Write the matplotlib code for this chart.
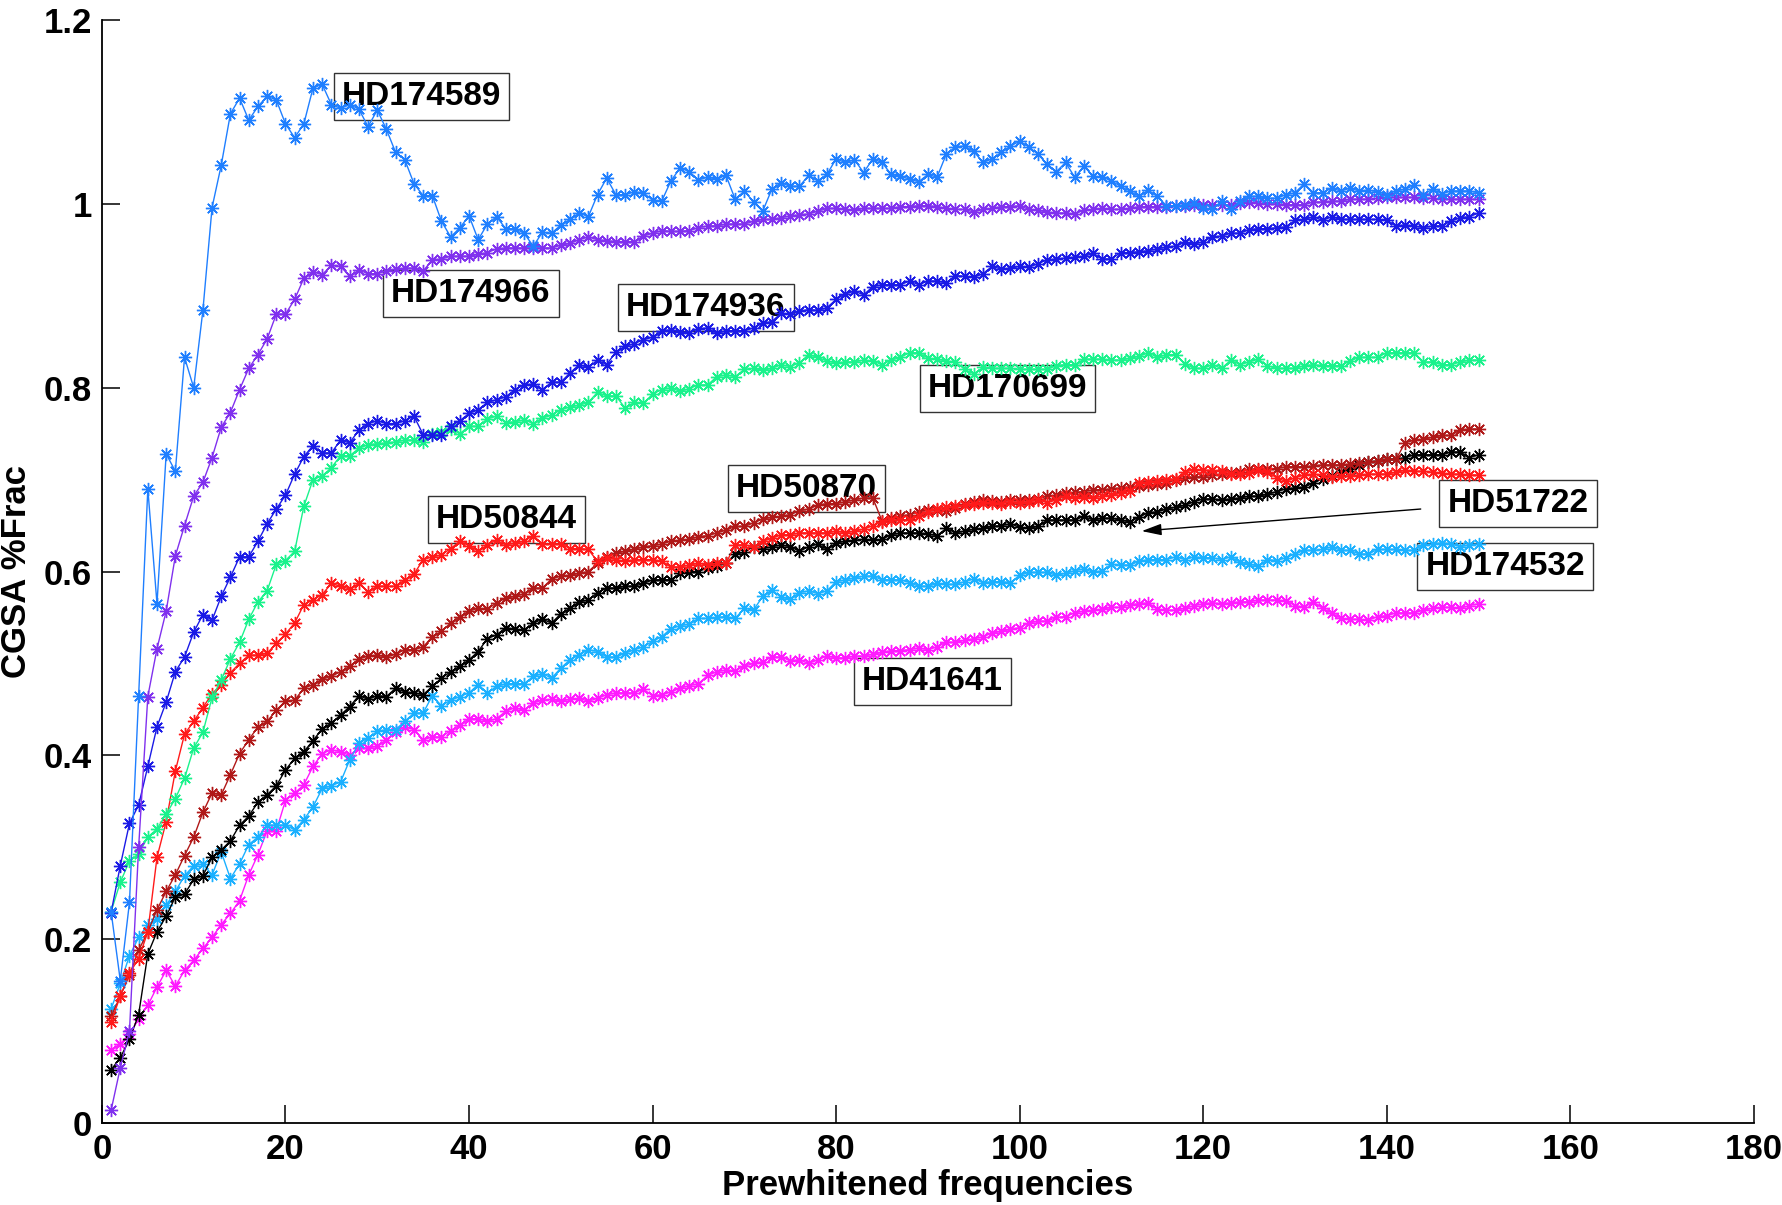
import matplotlib
matplotlib.use("Agg")
import matplotlib.pyplot as plt
import numpy as np

freqs = np.arange(1, 151)

hd174589 = [
    0.23, 0.155, 0.24, 0.465, 0.69, 0.565, 0.728, 0.709, 0.833, 0.80,
    0.884, 0.996, 1.042, 1.098, 1.115, 1.091, 1.106, 1.117, 1.113, 1.087,
    1.072, 1.087, 1.126, 1.13, 1.108, 1.104, 1.108, 1.103, 1.084, 1.102,
    1.081, 1.056, 1.048, 1.022, 1.009, 1.009, 0.981, 0.964, 0.974, 0.987,
    0.961, 0.978, 0.986, 0.973, 0.973, 0.968, 0.954, 0.969, 0.968, 0.977,
    0.983, 0.99, 0.986, 1.01, 1.028, 1.01, 1.01, 1.013, 1.012, 1.004,
    1.003, 1.025, 1.039, 1.035, 1.026, 1.029, 1.027, 1.031, 1.005, 1.014,
    1.002, 0.992, 1.016, 1.023, 1.019, 1.019, 1.031, 1.025, 1.032, 1.049,
    1.045, 1.048, 1.034, 1.049, 1.045, 1.032, 1.030, 1.027, 1.024, 1.032,
    1.029, 1.054, 1.062, 1.063, 1.057, 1.045, 1.049, 1.056, 1.063, 1.068,
    1.062, 1.054, 1.043, 1.035, 1.045, 1.029, 1.041, 1.030, 1.029, 1.025,
    1.019, 1.014, 1.008, 1.015, 1.008, 0.998, 0.998, 0.999, 1.001, 0.995,
    0.994, 1.003, 0.994, 1.003, 1.008, 1.008, 1.006, 1.006, 1.010, 1.012,
    1.022, 1.012, 1.012, 1.017, 1.014, 1.017, 1.014, 1.015, 1.013, 1.010,
    1.014, 1.016, 1.020, 1.010, 1.016, 1.011, 1.014, 1.014, 1.014, 1.012,
]

hd174966 = [
    0.014, 0.06, 0.10, 0.30, 0.464, 0.516, 0.557, 0.617, 0.65, 0.682,
    0.697, 0.724, 0.757, 0.773, 0.798, 0.821, 0.836, 0.853, 0.880, 0.880,
    0.896, 0.919, 0.926, 0.923, 0.933, 0.932, 0.921, 0.928, 0.924, 0.924,
    0.927, 0.929, 0.930, 0.930, 0.927, 0.939, 0.940, 0.943, 0.943, 0.943,
    0.945, 0.947, 0.951, 0.952, 0.952, 0.952, 0.952, 0.952, 0.952, 0.955,
    0.957, 0.961, 0.964, 0.961, 0.960, 0.959, 0.959, 0.959, 0.965, 0.968,
    0.971, 0.970, 0.970, 0.971, 0.974, 0.976, 0.976, 0.978, 0.978, 0.978,
    0.981, 0.983, 0.983, 0.985, 0.987, 0.988, 0.989, 0.992, 0.995, 0.995,
    0.994, 0.993, 0.995, 0.995, 0.995, 0.995, 0.997, 0.997, 0.998, 0.998,
    0.997, 0.995, 0.994, 0.994, 0.991, 0.994, 0.995, 0.997, 0.997, 0.998,
    0.994, 0.993, 0.991, 0.990, 0.990, 0.989, 0.993, 0.994, 0.995, 0.994,
    0.994, 0.995, 0.997, 0.997, 0.997, 0.997, 0.998, 0.998, 0.999, 0.999,
    0.999, 0.999, 0.999, 1.001, 1.002, 1.001, 1.000, 1.000, 0.999, 0.999,
    0.999, 1.002, 1.002, 1.003, 1.003, 1.005, 1.005, 1.005, 1.006, 1.007,
    1.007, 1.007, 1.007, 1.006, 1.006, 1.005, 1.005, 1.005, 1.005, 1.005,
]

hd174936 = [
    0.229, 0.28, 0.326, 0.346, 0.388, 0.431, 0.458, 0.491, 0.507, 0.534,
    0.553, 0.547, 0.573, 0.594, 0.616, 0.616, 0.633, 0.652, 0.668, 0.683,
    0.706, 0.725, 0.737, 0.729, 0.729, 0.743, 0.740, 0.754, 0.761, 0.764,
    0.761, 0.761, 0.764, 0.769, 0.749, 0.748, 0.748, 0.758, 0.764, 0.772,
    0.776, 0.784, 0.787, 0.790, 0.798, 0.803, 0.804, 0.798, 0.806, 0.806,
    0.816, 0.825, 0.822, 0.830, 0.825, 0.839, 0.845, 0.848, 0.852, 0.855,
    0.862, 0.863, 0.861, 0.860, 0.864, 0.865, 0.859, 0.862, 0.862, 0.862,
    0.865, 0.870, 0.872, 0.881, 0.880, 0.883, 0.885, 0.884, 0.887, 0.896,
    0.902, 0.905, 0.901, 0.910, 0.912, 0.912, 0.912, 0.916, 0.912, 0.916,
    0.916, 0.914, 0.922, 0.921, 0.920, 0.924, 0.932, 0.929, 0.930, 0.932,
    0.931, 0.935, 0.939, 0.940, 0.941, 0.942, 0.943, 0.946, 0.940, 0.940,
    0.947, 0.947, 0.948, 0.949, 0.951, 0.953, 0.954, 0.958, 0.956, 0.959,
    0.964, 0.965, 0.968, 0.968, 0.972, 0.973, 0.973, 0.974, 0.975, 0.982,
    0.983, 0.986, 0.982, 0.986, 0.983, 0.983, 0.983, 0.983, 0.983, 0.982,
    0.976, 0.977, 0.976, 0.974, 0.976, 0.976, 0.981, 0.985, 0.986, 0.990,
]

hd170699 = [
    0.23, 0.262, 0.285, 0.293, 0.311, 0.32, 0.336, 0.353, 0.375, 0.408,
    0.425, 0.463, 0.482, 0.505, 0.523, 0.548, 0.567, 0.579, 0.608, 0.612,
    0.622, 0.671, 0.70, 0.704, 0.713, 0.726, 0.726, 0.734, 0.738, 0.739,
    0.740, 0.741, 0.743, 0.743, 0.741, 0.750, 0.752, 0.755, 0.750, 0.758,
    0.758, 0.766, 0.769, 0.762, 0.763, 0.765, 0.761, 0.767, 0.770, 0.776,
    0.779, 0.781, 0.784, 0.795, 0.791, 0.791, 0.778, 0.784, 0.783, 0.793,
    0.798, 0.800, 0.796, 0.799, 0.803, 0.803, 0.812, 0.814, 0.812, 0.820,
    0.821, 0.819, 0.821, 0.825, 0.823, 0.827, 0.836, 0.833, 0.829, 0.827,
    0.828, 0.828, 0.830, 0.829, 0.825, 0.830, 0.833, 0.838, 0.838, 0.832,
    0.831, 0.829, 0.828, 0.820, 0.815, 0.822, 0.821, 0.821, 0.821, 0.820,
    0.820, 0.820, 0.820, 0.824, 0.825, 0.825, 0.831, 0.831, 0.831, 0.830,
    0.830, 0.832, 0.834, 0.838, 0.833, 0.836, 0.836, 0.826, 0.821, 0.821,
    0.825, 0.821, 0.830, 0.825, 0.828, 0.831, 0.824, 0.821, 0.821, 0.821,
    0.824, 0.825, 0.824, 0.824, 0.824, 0.829, 0.833, 0.833, 0.833, 0.838,
    0.838, 0.838, 0.838, 0.828, 0.828, 0.825, 0.825, 0.828, 0.830, 0.830,
]

hd50844 = [
    0.11, 0.138, 0.163, 0.179, 0.208, 0.289, 0.328, 0.383, 0.423, 0.437,
    0.452, 0.467, 0.477, 0.490, 0.500, 0.509, 0.509, 0.511, 0.522, 0.532,
    0.544, 0.564, 0.569, 0.575, 0.587, 0.584, 0.581, 0.587, 0.578, 0.584,
    0.584, 0.584, 0.591, 0.597, 0.613, 0.616, 0.618, 0.625, 0.633, 0.628,
    0.622, 0.629, 0.634, 0.629, 0.631, 0.633, 0.639, 0.630, 0.630, 0.630,
    0.625, 0.625, 0.624, 0.611, 0.615, 0.613, 0.611, 0.613, 0.613, 0.613,
    0.611, 0.605, 0.605, 0.607, 0.609, 0.607, 0.609, 0.609, 0.629, 0.629,
    0.627, 0.633, 0.636, 0.640, 0.640, 0.642, 0.642, 0.642, 0.642, 0.644,
    0.642, 0.644, 0.646, 0.650, 0.654, 0.656, 0.656, 0.656, 0.660, 0.665,
    0.668, 0.670, 0.671, 0.672, 0.674, 0.675, 0.675, 0.674, 0.676, 0.675,
    0.676, 0.678, 0.675, 0.678, 0.682, 0.680, 0.681, 0.680, 0.682, 0.683,
    0.685, 0.688, 0.696, 0.697, 0.698, 0.700, 0.701, 0.708, 0.711, 0.710,
    0.710, 0.709, 0.706, 0.706, 0.707, 0.710, 0.708, 0.702, 0.698, 0.702,
    0.705, 0.706, 0.705, 0.703, 0.704, 0.704, 0.705, 0.706, 0.706, 0.706,
    0.708, 0.710, 0.709, 0.709, 0.708, 0.707, 0.706, 0.706, 0.705, 0.705,
]

hd50870 = [
    0.116, 0.138, 0.161, 0.188, 0.208, 0.232, 0.252, 0.27, 0.291, 0.311,
    0.338, 0.359, 0.357, 0.379, 0.402, 0.417, 0.431, 0.437, 0.449, 0.459,
    0.460, 0.473, 0.477, 0.483, 0.486, 0.491, 0.497, 0.505, 0.508, 0.509,
    0.507, 0.510, 0.515, 0.515, 0.518, 0.529, 0.535, 0.544, 0.551, 0.557,
    0.560, 0.559, 0.566, 0.571, 0.573, 0.576, 0.582, 0.582, 0.592, 0.595,
    0.596, 0.598, 0.600, 0.609, 0.616, 0.620, 0.622, 0.624, 0.627, 0.628,
    0.630, 0.633, 0.634, 0.635, 0.638, 0.639, 0.642, 0.645, 0.649, 0.649,
    0.653, 0.657, 0.659, 0.660, 0.662, 0.666, 0.668, 0.672, 0.674, 0.674,
    0.676, 0.678, 0.680, 0.680, 0.655, 0.658, 0.660, 0.662, 0.665, 0.667,
    0.667, 0.666, 0.669, 0.674, 0.676, 0.678, 0.677, 0.676, 0.678, 0.678,
    0.678, 0.679, 0.682, 0.683, 0.685, 0.686, 0.687, 0.689, 0.689, 0.690,
    0.691, 0.692, 0.693, 0.694, 0.695, 0.696, 0.700, 0.702, 0.703, 0.703,
    0.705, 0.706, 0.707, 0.708, 0.711, 0.712, 0.712, 0.712, 0.714, 0.714,
    0.714, 0.715, 0.716, 0.716, 0.716, 0.717, 0.718, 0.719, 0.720, 0.722,
    0.722, 0.740, 0.743, 0.744, 0.746, 0.748, 0.748, 0.754, 0.755, 0.755,
]

hd51722 = [
    0.058, 0.071, 0.091, 0.118, 0.184, 0.208, 0.225, 0.246, 0.249, 0.265,
    0.269, 0.289, 0.297, 0.307, 0.324, 0.334, 0.349, 0.357, 0.367, 0.384,
    0.397, 0.404, 0.416, 0.429, 0.435, 0.444, 0.453, 0.465, 0.461, 0.465,
    0.464, 0.473, 0.469, 0.468, 0.466, 0.475, 0.484, 0.491, 0.497, 0.504,
    0.513, 0.527, 0.531, 0.539, 0.537, 0.536, 0.544, 0.548, 0.544, 0.554,
    0.560, 0.567, 0.569, 0.577, 0.582, 0.582, 0.584, 0.584, 0.587, 0.591,
    0.591, 0.591, 0.598, 0.600, 0.600, 0.604, 0.606, 0.609, 0.619, 0.621,
    0.627, 0.625, 0.627, 0.629, 0.627, 0.622, 0.627, 0.630, 0.624, 0.631,
    0.633, 0.634, 0.635, 0.634, 0.635, 0.640, 0.642, 0.642, 0.642, 0.641,
    0.639, 0.647, 0.642, 0.644, 0.646, 0.647, 0.649, 0.650, 0.652, 0.648,
    0.647, 0.649, 0.656, 0.656, 0.656, 0.656, 0.660, 0.656, 0.658, 0.658,
    0.656, 0.654, 0.659, 0.664, 0.665, 0.668, 0.670, 0.672, 0.676, 0.679,
    0.679, 0.678, 0.679, 0.680, 0.682, 0.682, 0.684, 0.687, 0.690, 0.691,
    0.692, 0.696, 0.701, 0.704, 0.708, 0.711, 0.716, 0.719, 0.720, 0.722,
    0.722, 0.724, 0.727, 0.727, 0.727, 0.727, 0.730, 0.730, 0.724, 0.727,
]

hd174532 = [
    0.124, 0.152, 0.182, 0.202, 0.216, 0.222, 0.237, 0.252, 0.269, 0.28,
    0.282, 0.270, 0.295, 0.266, 0.282, 0.303, 0.311, 0.324, 0.324, 0.324,
    0.319, 0.330, 0.344, 0.364, 0.367, 0.371, 0.395, 0.413, 0.419, 0.426,
    0.428, 0.428, 0.437, 0.446, 0.446, 0.465, 0.454, 0.460, 0.464, 0.468,
    0.477, 0.468, 0.475, 0.478, 0.478, 0.478, 0.486, 0.489, 0.484, 0.495,
    0.504, 0.509, 0.515, 0.513, 0.507, 0.507, 0.511, 0.515, 0.518, 0.524,
    0.529, 0.538, 0.541, 0.543, 0.549, 0.549, 0.550, 0.551, 0.549, 0.560,
    0.558, 0.573, 0.580, 0.572, 0.570, 0.577, 0.579, 0.576, 0.579, 0.589,
    0.591, 0.593, 0.595, 0.595, 0.591, 0.591, 0.591, 0.588, 0.584, 0.584,
    0.587, 0.586, 0.586, 0.589, 0.592, 0.588, 0.589, 0.589, 0.588, 0.596,
    0.599, 0.599, 0.599, 0.596, 0.598, 0.601, 0.603, 0.599, 0.601, 0.608,
    0.607, 0.607, 0.611, 0.613, 0.613, 0.613, 0.616, 0.613, 0.616, 0.615,
    0.615, 0.613, 0.616, 0.610, 0.608, 0.606, 0.613, 0.612, 0.615, 0.619,
    0.623, 0.623, 0.624, 0.627, 0.623, 0.623, 0.619, 0.619, 0.624, 0.624,
    0.624, 0.623, 0.623, 0.629, 0.630, 0.631, 0.630, 0.627, 0.629, 0.630,
]

hd41641 = [
    0.08, 0.086, 0.097, 0.113, 0.128, 0.148, 0.166, 0.149, 0.166, 0.177,
    0.190, 0.202, 0.216, 0.228, 0.242, 0.270, 0.292, 0.318, 0.318, 0.351,
    0.359, 0.368, 0.388, 0.402, 0.406, 0.404, 0.400, 0.408, 0.408, 0.410,
    0.417, 0.425, 0.431, 0.428, 0.417, 0.420, 0.420, 0.427, 0.433, 0.440,
    0.440, 0.437, 0.440, 0.448, 0.452, 0.449, 0.457, 0.460, 0.461, 0.459,
    0.461, 0.462, 0.459, 0.462, 0.466, 0.468, 0.468, 0.468, 0.472, 0.465,
    0.466, 0.469, 0.473, 0.476, 0.478, 0.487, 0.491, 0.493, 0.492, 0.497,
    0.500, 0.502, 0.507, 0.507, 0.503, 0.504, 0.500, 0.504, 0.508, 0.506,
    0.506, 0.508, 0.508, 0.510, 0.512, 0.514, 0.514, 0.515, 0.517, 0.515,
    0.518, 0.523, 0.523, 0.525, 0.527, 0.529, 0.533, 0.535, 0.537, 0.539,
    0.544, 0.546, 0.546, 0.550, 0.551, 0.555, 0.557, 0.558, 0.559, 0.561,
    0.561, 0.564, 0.565, 0.566, 0.559, 0.558, 0.558, 0.560, 0.563, 0.565,
    0.566, 0.565, 0.566, 0.567, 0.567, 0.569, 0.569, 0.569, 0.568, 0.563,
    0.561, 0.567, 0.560, 0.555, 0.549, 0.548, 0.548, 0.547, 0.551, 0.552,
    0.555, 0.555, 0.555, 0.558, 0.560, 0.561, 0.561, 0.560, 0.563, 0.565,
]

# star name -> (values, colour)
series = [
    ("HD41641", hd41641, "#ff1aff"),
    ("HD174532", hd174532, "#1ab0ff"),
    ("HD51722", hd51722, "#000000"),
    ("HD50870", hd50870, "#b01818"),
    ("HD50844", hd50844, "#ff1a1a"),
    ("HD170699", hd170699, "#1af28c"),
    ("HD174936", hd174936, "#1a1ae6"),
    ("HD174966", hd174966, "#8030ee"),
    ("HD174589", hd174589, "#1f7fff"),
]

# label text, x, y (data coords)
labels = [
    ("HD174589", 34.8, 1.117),
    ("HD174966", 40.2, 0.902),
    ("HD174936", 65.8, 0.887),
    ("HD170699", 98.7, 0.799),
    ("HD50844", 44.1, 0.657),
    ("HD50870", 76.8, 0.690),
    ("HD51722", 154.3, 0.674),
    ("HD174532", 152.9, 0.605),
    ("HD41641", 90.5, 0.480),
]

tick_font = ["Liberation Sans Narrow", "Liberation Sans", "DejaVu Sans"]

fig = plt.figure(figsize=(17.82, 12.05), dpi=100)
ax = fig.add_axes([0.0572, 0.068, 0.927, 0.9154])

for name, vals, col in series:
    ax.plot(freqs, vals, color=col, lw=1.0, marker=(8, 2, 0), ms=9.5,
            mew=1.0, zorder=3)

for txt, x, y in labels:
    ax.text(x, y, txt, fontsize=24, fontweight="bold",
            family=["Liberation Sans", "DejaVu Sans"],
            ha="center", va="center", zorder=1,
            bbox=dict(boxstyle="square,pad=0.24", fc="white",
                      ec="#333333", lw=1.0))

ax.annotate("", xy=(113.3, 0.644), xytext=(143.7, 0.668),
            arrowprops=dict(arrowstyle="-|>,head_length=1.2,head_width=0.35",
                            color="black", lw=1.0, shrinkA=0, shrinkB=0),
            zorder=4)

ax.set_xlim(0, 180)
ax.set_ylim(0, 1.2)
ax.set_xticks(np.arange(0, 181, 20))
ax.set_yticks([0, 0.2, 0.4, 0.6, 0.8, 1.0, 1.2])
ax.set_yticklabels(["0", "0.2", "0.4", "0.6", "0.8", "1", "1.2"])

for s in ["top", "right"]:
    ax.spines[s].set_visible(False)
for s in ["left", "bottom"]:
    ax.spines[s].set_linewidth(1.3)

ax.tick_params(direction="in", length=13, width=1.1, pad=7)
for lab in ax.get_xticklabels() + ax.get_yticklabels():
    lab.set_family(tick_font)
    lab.set_fontsize(25)
    lab.set_fontweight("bold")

ax.set_xlabel("Prewhitened frequencies", family=tick_font, fontsize=25,
              fontweight="bold", labelpad=2)
ax.set_ylabel("CGSA %Frac", family=tick_font, fontsize=25,
              fontweight="bold", labelpad=8)

fig.savefig("out.png", dpi=100)
